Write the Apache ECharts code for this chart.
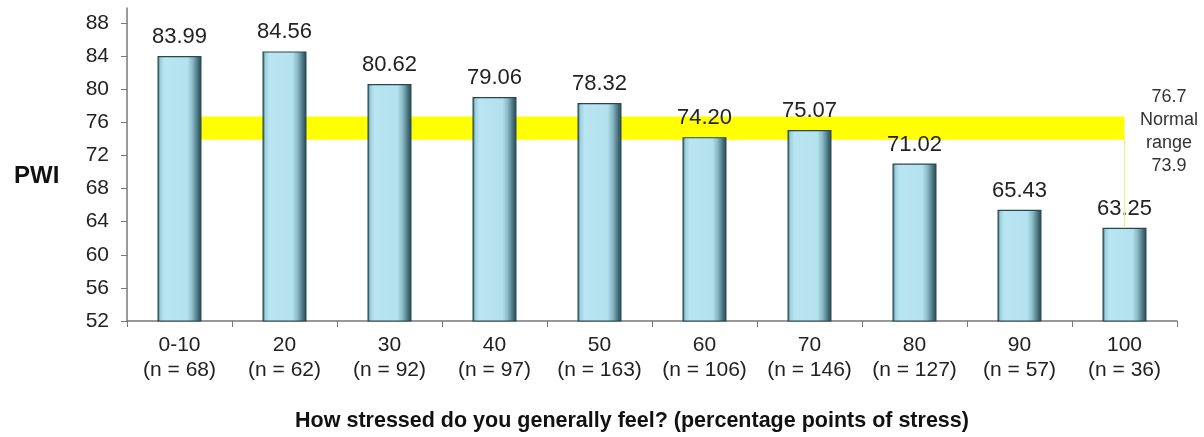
<!DOCTYPE html>
<html>
<head>
<meta charset="utf-8">
<script src="https://cdn.jsdelivr.net/npm/echarts@6/dist/echarts.min.js"></script>
<style>
  html, body { margin: 0; padding: 0; background: #fff; }
  #main { width: 1204px; height: 437px; }
</style>
</head>
<body>
<div id="main"></div>
<script>
// stress level groups and their sample sizes
const categories = ['0-10', '20', '30', '40', '50', '60', '70', '80', '90', '100'];
const counts = [68, 62, 92, 97, 163, 106, 146, 127, 57, 36];
const pwiValues = [83.99, 84.56, 80.62, 79.06, 78.32, 74.20, 75.07, 71.02, 65.43, 63.25];
const yTicks = [52, 56, 60, 64, 68, 72, 76, 80, 84, 88];
const normalRange = [73.9, 76.7];

const font = 'Liberation Sans, Arial, sans-serif';
const xLabels = categories.map((c, i) => c + '\n(n = ' + counts[i] + ')');
const lastCat = xLabels[xLabels.length - 1];

const chart = echarts.init(document.getElementById('main'));

// rough imitation of the bevelled bars
const barColor = new echarts.graphic.LinearGradient(0, 0, 1, 0, [
  { offset: 0, color: '#3f6b76' },
  { offset: 0.07, color: '#9fd2df' },
  { offset: 0.16, color: '#b8e5f1' },
  { offset: 0.68, color: '#b3e1ed' },
  { offset: 0.8, color: '#88b8c4' },
  { offset: 0.92, color: '#45717c' },
  { offset: 1, color: '#24424a' }
]);

const option = {
  animation: false,
  title: [
    {
      text: 'PWI',
      left: 9,
      top: 159,
      textStyle: { fontFamily: font, fontSize: 24, fontWeight: 'bold', color: '#111' }
    },
    {
      text: normalRange[1] + '\nNormal\nrange\n' + normalRange[0],
      left: 1164,
      top: 81,
      textAlign: 'center',
      textStyle: { fontFamily: font, fontSize: 18, fontWeight: 'normal', color: '#333', lineHeight: 23 }
    }
  ],
  grid: { left: 127, right: 27, top: 8, bottom: 116 },
  xAxis: {
    type: 'category',
    data: xLabels,
    axisLine: { lineStyle: { color: '#777', width: 1.5 } },
    axisTick: { show: true, interval: 0, length: 6, lineStyle: { color: '#777' } },
    axisLabel: { interval: 0, hideOverlap: false, fontFamily: font, fontSize: 21, color: '#222', lineHeight: 25, margin: 12 },
    name: 'How stressed do you generally feel? (percentage points of stress)',
    nameLocation: 'middle',
    nameGap: 89,
    nameTextStyle: { fontFamily: font, fontSize: 21.5, fontWeight: 'bold', color: '#111', padding: [0, 40, 0, 0] }
  },
  yAxis: {
    type: 'value',
    min: 52,
    max: 89.8,
    interval: 4,
    axisLine: { show: true, lineStyle: { color: '#777', width: 1.5 } },
    axisTick: { show: true, length: 6, lineStyle: { color: '#777' }, customValues: yTicks },
    axisLabel: { fontFamily: font, fontSize: 21, color: '#222', margin: 18, customValues: yTicks },
    splitLine: { show: false }
  },
  series: [
    {
      // normal range band and its leader line, drawn behind the bars
      type: 'line',
      data: [],
      z: 1,
      markArea: {
        silent: true,
        itemStyle: { color: '#ffff00', opacity: 1 },
        data: [[
          { xAxis: xLabels[0], yAxis: normalRange[1] },
          { xAxis: lastCat, yAxis: normalRange[0] }
        ]]
      },
      markLine: {
        silent: true,
        symbol: 'none',
        label: { show: false },
        lineStyle: { color: '#f4f07a', width: 1, type: 'solid' },
        data: [[
          { coord: [lastCat, normalRange[0]] },
          { coord: [lastCat, pwiValues[pwiValues.length - 1]] }
        ]]
      }
    },
    {
      type: 'bar',
      data: pwiValues,
      z: 3,
      barWidth: 44,
      itemStyle: { color: barColor, borderColor: '#284850', borderWidth: 1.2 },
      label: {
        show: true,
        position: 'top',
        distance: 8,
        fontFamily: font,
        fontSize: 22,
        color: '#222',
        formatter: (p) => p.value.toFixed(2)
      }
    }
  ]
};

chart.setOption(option);
</script>
</body>
</html>
